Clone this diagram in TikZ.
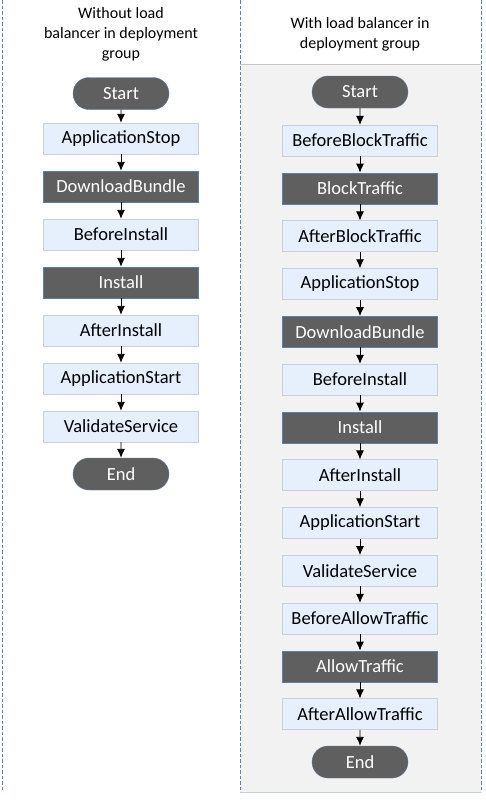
\documentclass[tikz,border=0pt]{standalone}
\usepackage{fontspec}
\setmainfont{Carlito}
\usetikzlibrary{arrows.meta,shapes.misc}
\definecolor{lightfill}{HTML}{E5F0FC}
\definecolor{lightline}{HTML}{C9CFD6}
\definecolor{darkfill}{HTML}{5F5F5F}
\definecolor{darkline}{HTML}{5B7FA8}
\definecolor{panelfill}{HTML}{F2F2F2}
\definecolor{panelline}{HTML}{C6C6C6}
\definecolor{sepline}{HTML}{5B84B1}

\begin{document}
\begin{tikzpicture}[x=1pt,y=-1pt,
	light/.style={draw=lightline, fill=lightfill, minimum width=155pt, minimum height=31pt, inner sep=0pt, font=\fontsize{18.5}{20}\selectfont},
	dark/.style={draw=darkline, fill=darkfill, text=white, minimum width=155pt, minimum height=31pt, inner sep=0pt, font=\fontsize{18.5}{20}\selectfont},
	term/.style={rounded rectangle, draw=darkline, fill=darkfill, text=white, minimum width=96pt, minimum height=32pt, inner sep=0pt, font=\fontsize{18.5}{20}\selectfont},
	title/.style={align=center, font=\fontsize{16}{20}\selectfont},
	sep/.style={sepline, dash pattern=on 3.5pt off 2pt, line width=1pt},
	flow/.style={-{Latex[length=9pt,width=8pt]}, line width=0.9pt}]
	\useasboundingbox (0,0) rectangle (485,801);
	% panels
	\fill[panelfill] (240,64) rectangle (481,792);
	\draw[panelline] (240,64) -- (481,64);
	\draw[lightline] (240,792) -- (481,792);
	\draw[sep] (2,0) -- (2,792);
	\draw[sep] (240,0) -- (240,792);
	\draw[sep] (481,0) -- (481,792);
	% titles
	\node[title] (ltitle) at (121,34) {Without load\\balancer in deployment\\group};
	\node[title] (rtitle) at (360,34) {With load balancer in\\deployment group};
	% left column
	\node[term] (l0) at (121,93.5) {Start};
	\foreach \txt/\sty [count=\i] in {ApplicationStop/light, DownloadBundle/dark,
		BeforeInstall/light, Install/dark, AfterInstall/light,
		ApplicationStart/light, ValidateService/light}
	\node[\sty] (l\i) at (121,90.5+48*\i) {\txt};
	\node[term] (l8) at (121,474) {End};
	\foreach \i in {1,...,8}{
		\pgfmathtruncatemacro\j{\i-1}
		\draw[flow] (l\j) -- (l\i);
	}
	% right column
	\node[term] (r0) at (360,92) {Start};
	\foreach \txt/\sty [count=\i] in {BeforeBlockTraffic/light, BlockTraffic/dark,
		AfterBlockTraffic/light, ApplicationStop/light, DownloadBundle/dark,
		BeforeInstall/light, Install/dark, AfterInstall/light,
		ApplicationStart/light, ValidateService/light, BeforeAllowTraffic/light,
		AllowTraffic/dark, AfterAllowTraffic/light}
	\node[\sty] (r\i) at (360,92.75+47.8*\i) {\txt};
	\node[term] (r14) at (360,762) {End};
	\foreach \i in {1,...,14}{
		\pgfmathtruncatemacro\j{\i-1}
		\draw[flow] (r\j) -- (r\i);
	}
\end{tikzpicture}
\end{document}
